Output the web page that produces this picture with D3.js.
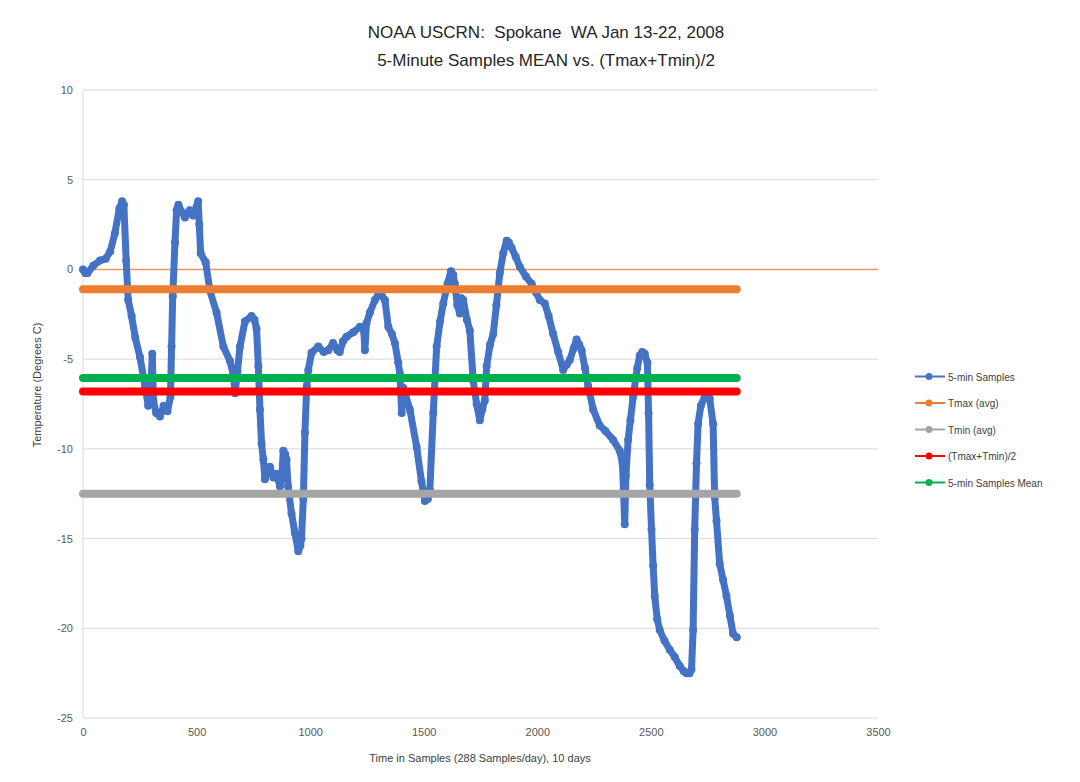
<!DOCTYPE html>
<html>
<head>
<meta charset="utf-8">
<script src="https://cdn.jsdelivr.net/npm/d3@7"></script>
<style>
    body { margin: 0; background: #fff; }
    text { font-family: "Liberation Sans", "Noto Sans", sans-serif; fill: #595959; }
</style>
</head>
<body>
<div id="chart"></div>
<script>
// 5-min samples (sample index, degrees C)
const sampleIdx = [0, 10, 20, 45, 75, 100, 120, 140, 160, 172, 180, 190, 199, 214, 230, 251, 273, 287, 298, 305,
    310, 322, 339, 355, 372, 385, 390, 395, 405, 412, 420, 435, 449, 470, 485, 500, 507, 512, 518, 540,
    559, 588, 618, 647, 662, 669, 680, 691, 713, 742, 755, 764, 772, 779, 786, 794, 801, 810, 823, 838,
    852, 867, 875, 882, 890, 896, 903, 918, 933, 948, 957, 962, 970, 977, 985, 992, 1006, 1036, 1060, 1080,
    1101, 1120, 1130, 1145, 1160, 1190, 1219, 1236, 1241, 1248, 1263, 1285, 1300, 1316, 1329, 1344, 1360, 1373, 1388, 1395,
    1403, 1410, 1420, 1439, 1469, 1490, 1505, 1518, 1527, 1542, 1557, 1572, 1586, 1605, 1620, 1630, 1637, 1648, 1659, 1666,
    1674, 1690, 1703, 1718, 1733, 1747, 1758, 1769, 1777, 1792, 1806, 1820, 1835, 1850, 1865, 1875, 1887, 1905, 1923, 1950,
    1975, 1995, 2011, 2033, 2050, 2070, 2092, 2114, 2130, 2143, 2160, 2173, 2185, 2195, 2210, 2224, 2246, 2275, 2300, 2334,
    2363, 2375, 2385, 2390, 2400, 2410, 2422, 2440, 2451, 2462, 2473, 2485, 2490, 2495, 2503, 2510, 2517, 2528, 2539, 2560,
    2583, 2605, 2627, 2645, 2657, 2670, 2679, 2686, 2693, 2701, 2708, 2720, 2737, 2750, 2759, 2774, 2781, 2789, 2803, 2818,
    2833, 2848, 2862, 2878];
const sampleTemp = [0.0, -0.2, -0.2, 0.2, 0.5, 0.6, 1.0, 2.0, 3.4, 3.8, 3.6, 0.5, -1.7, -2.6, -3.8, -4.9, -6.5, -7.6, -7.0, -4.7,
    -7.3, -8.0, -8.2, -7.6, -7.9, -7.1, -4.3, -1.5, 1.5, 3.3, 3.6, 3.2, 2.9, 3.3, 3.0, 3.5, 3.8, 2.5, 0.9, 0.4,
    -1.2, -2.4, -4.3, -5.1, -5.9, -6.9, -5.7, -4.3, -2.9, -2.6, -2.8, -3.3, -5.4, -7.8, -9.7, -10.6, -11.7, -11.2, -11.0, -11.6,
    -11.4, -12.1, -11.5, -10.1, -10.3, -10.6, -12.1, -13.6, -14.7, -15.7, -15.4, -15.0, -12.8, -9.1, -6.5, -5.6, -4.65, -4.3, -4.6, -4.5,
    -4.1, -4.5, -4.6, -4.0, -3.75, -3.5, -3.2, -3.4, -4.5, -3.0, -2.4, -1.7, -1.4, -1.5, -1.7, -3.2, -3.6, -4.1, -5.2, -5.8,
    -8.0, -6.6, -7.0, -7.8, -9.9, -11.8, -12.9, -12.8, -12.3, -8.0, -4.3, -2.9, -1.9, -0.8, -0.1, -0.3, -0.8, -2.0, -2.45, -1.6,
    -1.7, -2.8, -3.4, -6.2, -7.5, -8.4, -7.8, -7.3, -5.4, -4.2, -3.6, -2.0, -0.2, 0.9, 1.6, 1.5, 1.2, 0.7, 0.15, -0.4,
    -0.8, -1.3, -1.7, -1.9, -2.6, -3.6, -4.6, -5.6, -5.3, -5.05, -4.4, -3.9, -4.2, -4.5, -5.5, -6.5, -7.8, -8.7, -9.0, -9.5,
    -10.1, -10.8, -14.2, -11.5, -9.5, -8.4, -7.1, -5.5, -4.8, -4.6, -4.7, -5.2, -8.0, -12.0, -14.5, -16.5, -18.2, -19.5, -20.1, -20.7,
    -21.2, -21.6, -22.1, -22.4, -22.5, -22.5, -22.3, -20.1, -14.5, -10.8, -8.6, -7.6, -7.1, -6.9, -7.2, -8.6, -12.7, -14.0, -16.4, -17.3,
    -18.2, -19.3, -20.3, -20.5];

// constant series, drawn from first to last sample
const levelNames = ['Tmax (avg)', 'Tmin (avg)', '(Tmax+Tmin)/2', '5-min Samples Mean'];
const levelValues = [-1.1, -12.5, -6.8, -6.05];
const levelColors = ['#ED7D31', '#A5A5A5', '#FF0000', '#00B050'];
const levelRange = [0, 2878];

const legendNames = ['5-min Samples', 'Tmax (avg)', 'Tmin (avg)', '(Tmax+Tmin)/2', '5-min Samples Mean'];
const legendColors = ['#4472C4', '#ED7D31', '#A5A5A5', '#FF0000', '#00B050'];

const xTicks = [0, 500, 1000, 1500, 2000, 2500, 3000, 3500];
const yTicks = [10, 5, 0, -5, -10, -15, -20, -25];

const width = 1080, height = 782;
const plot = { left: 83, right: 878, top: 90, bottom: 718 };

const svg = d3.select('#chart').append('svg')
    .attr('width', width)
    .attr('height', height);

const x = d3.scaleLinear().domain([0, 3500]).range([plot.left, plot.right]);
const y = d3.scaleLinear().domain([-25, 10]).range([plot.bottom, plot.top]);

// gridlines
svg.append('g')
    .selectAll('line')
    .data(yTicks)
    .enter()
    .append('line')
    .attr('x1', plot.left)
    .attr('x2', plot.right)
    .attr('y1', d => y(d))
    .attr('y2', d => y(d))
    .attr('stroke', '#d9d9d9')
    .attr('stroke-width', 1);

svg.append('line')
    .attr('x1', plot.left).attr('x2', plot.left)
    .attr('y1', plot.top).attr('y2', plot.bottom)
    .attr('stroke', '#d9d9d9');

// horizontal axis line crossing at 0
svg.append('line')
    .attr('x1', x(0)).attr('x2', x(3500))
    .attr('y1', y(0)).attr('y2', y(0))
    .attr('stroke', '#ED7D31')
    .attr('stroke-opacity', 0.75)
    .attr('stroke-width', 1.5);

// axes (labels only), plain hyphen for negatives
const yAxis = svg.append('g')
    .attr('transform', `translate(${plot.left - 10},0)`)
    .call(d3.axisLeft(y).tickValues(yTicks).tickSize(0).tickPadding(0).tickFormat(d => String(d)));
yAxis.select('.domain').remove();
yAxis.selectAll('text').style('font-size', '11px').attr('fill', '#595959');

const xAxis = svg.append('g')
    .attr('transform', `translate(0,${plot.bottom + 10})`)
    .call(d3.axisBottom(x).tickValues(xTicks).tickSize(0).tickPadding(0).tickFormat(d => String(d)));
xAxis.select('.domain').remove();
xAxis.selectAll('text').style('font-size', '11px').attr('fill', '#595959');

// blue 5-min samples
const samples = sampleIdx.map((s, i) => ({ s: s, t: sampleTemp[i] }));
const line = d3.line().x(d => x(d.s)).y(d => y(d.t));

svg.append('path')
    .datum(samples)
    .attr('d', line)
    .attr('fill', 'none')
    .attr('stroke', '#4472C4')
    .attr('stroke-width', 7)
    .attr('stroke-linejoin', 'round')
    .attr('stroke-linecap', 'round');

svg.append('g')
    .selectAll('circle')
    .data(samples)
    .enter()
    .append('circle')
    .attr('cx', d => x(d.s))
    .attr('cy', d => y(d.t))
    .attr('r', 4)
    .attr('fill', '#4472C4');

// level lines
svg.append('g')
    .selectAll('line')
    .data(levelValues)
    .enter()
    .append('line')
    .attr('x1', x(levelRange[0]))
    .attr('x2', x(levelRange[1]))
    .attr('y1', d => y(d))
    .attr('y2', d => y(d))
    .attr('stroke', (d, i) => levelColors[i])
    .attr('stroke-width', 8)
    .attr('stroke-linecap', 'round');

// titles
svg.append('text')
    .attr('x', 546).attr('y', 38)
    .attr('text-anchor', 'middle')
    .attr('xml:space', 'preserve')
    .style('font-size', '17px')
    .style('fill', '#262626')
    .text('NOAA USCRN:  Spokane  WA Jan 13-22, 2008');

svg.append('text')
    .attr('x', 546).attr('y', 66)
    .attr('text-anchor', 'middle')
    .style('font-size', '17px')
    .style('fill', '#262626')
    .text('5-Minute Samples MEAN vs. (Tmax+Tmin)/2');

svg.append('text')
    .attr('x', 480).attr('y', 762)
    .attr('text-anchor', 'middle')
    .style('font-size', '11px')
    .style('fill', '#404040')
    .text('Time in Samples (288 Samples/day), 10 days');

svg.append('text')
    .attr('transform', 'translate(41,385) rotate(-90)')
    .attr('text-anchor', 'middle')
    .style('font-size', '11px')
    .style('fill', '#404040')
    .text('Temperature  (Degrees C)');

// legend
const legend = svg.append('g')
    .selectAll('g')
    .data(legendNames)
    .enter()
    .append('g')
    .attr('transform', (d, i) => `translate(915, ${376.5 + i * 26.5})`);

legend.append('line')
    .attr('x1', 0).attr('x2', 30)
    .attr('stroke', (d, i) => legendColors[i])
    .attr('stroke-width', 2);

legend.append('circle')
    .attr('cx', 14).attr('r', 3.5)
    .attr('fill', (d, i) => legendColors[i]);

legend.append('text')
    .attr('x', 33).attr('y', 4)
    .style('font-size', '10px')
    .style('fill', '#404040')
    .text(d => d);
</script>
</body>
</html>
